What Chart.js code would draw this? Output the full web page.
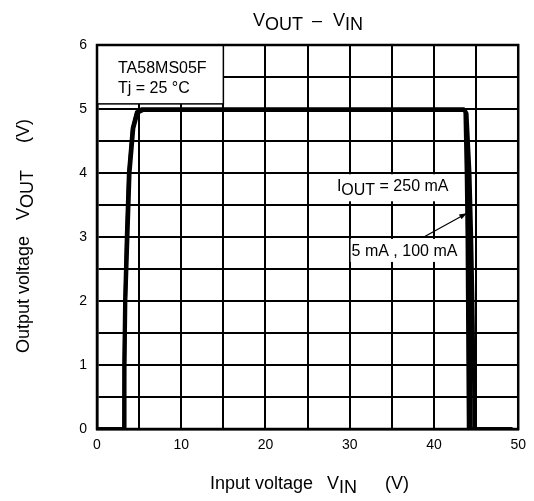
<!DOCTYPE html>
<html>
<head>
<meta charset="utf-8">
<script src="https://cdn.jsdelivr.net/npm/chart.js@4/dist/chart.umd.min.js"></script>
<style>
  body { margin: 0; background: #fff; }
</style>
</head>
<body>
<canvas id="myChart" width="534" height="501"></canvas>
<script>
// Curves: input voltage (V) and output voltage (V)
var vin5 = [0, 3.15, 3.2, 3.3, 3.5, 3.75, 4.2, 4.7, 5.3, 43.5, 43.7, 43.85, 43.95, 44.0, 44.05, 44.1, 49.3];
var vout5 = [0, 0, 1, 2, 3, 4, 4.7, 4.95, 5.0, 5.0, 4.95, 4, 3, 2, 1, 0, 0];

var vin100 = [0, 3.2, 3.25, 3.35, 3.55, 3.8, 4.25, 4.75, 5.4, 43.6, 43.8, 44.05, 44.2, 44.3, 44.35, 44.4, 49.3];
var vout100 = [0, 0, 1, 2, 3, 4, 4.7, 4.95, 4.99, 4.99, 4.94, 4, 3, 2, 1, 0, 0];

var vin250 = [0, 3.25, 3.3, 3.4, 3.65, 3.9, 4.35, 4.85, 5.5, 43.7, 43.9, 44.25, 44.45, 44.6, 44.7, 44.8, 49.3];
var vout250 = [0, 0, 1, 2, 3, 4, 4.7, 4.94, 4.98, 4.98, 4.93, 4, 3, 2, 1, 0, 0];

var xTicks = [0, 10, 20, 30, 40, 50];
var yTicks = [0, 1, 2, 3, 4, 5, 6];

function toPoints(xs, ys) {
  var pts = [];
  for (var i = 0; i < xs.length; i++) {
    pts.push({ x: xs[i], y: ys[i] });
  }
  return pts;
}

function curve(label, xs, ys) {
  return {
    label: label,
    data: toPoints(xs, ys),
    showLine: true,
    borderColor: '#000',
    borderWidth: 3.5,
    pointRadius: 0,
    tension: 0,
    fill: false
  };
}

var FONT = 'Liberation Sans, Arial, sans-serif';

// draw text made of runs, some of them lowered as subscripts
function drawRuns(ctx, runs, x, y) {
  ctx.textAlign = 'left';
  ctx.textBaseline = 'alphabetic';
  for (var i = 0; i < runs.length; i++) {
    var r = runs[i];
    ctx.fillText(r.t, x, y + (r.sub ? 4 : 0));
    x += ctx.measureText(r.t).width + (r.gap || 0);
  }
}

var extras = {
  id: 'extras',
  beforeDatasetsDraw: function (chart) {
    var ctx = chart.ctx;
    var xs = chart.scales.x, ys = chart.scales.y;
    ctx.save();

    // part number box
    var bx0 = xs.getPixelForValue(0), bx1 = xs.getPixelForValue(15);
    var by0 = ys.getPixelForValue(6), by1 = ys.getPixelForValue(5.08);
    ctx.fillStyle = '#fff';
    ctx.fillRect(bx0, by0, bx1 - bx0, by1 - by0);
    ctx.strokeStyle = '#000';
    ctx.lineWidth = 1.5;
    ctx.strokeRect(bx0, by0, bx1 - bx0, by1 - by0);
    ctx.fillStyle = '#000';
    ctx.font = '16px ' + FONT;
    ctx.textAlign = 'left';
    ctx.fillText('TA58MS05F', bx0 + 21, by0 + 28);
    ctx.fillText('Tj = 25 °C', bx0 + 21, by0 + 48);

    // label backgrounds
    ctx.fillStyle = '#fff';
    var l1x = xs.getPixelForValue(28.0), l1y = ys.getPixelForValue(3.98);
    ctx.fillRect(l1x, l1y, 120, 27);
    var l2x = xs.getPixelForValue(30.1), l2y = ys.getPixelForValue(2.97);
    ctx.fillRect(l2x, l2y, 106, 23);

    ctx.fillStyle = '#000';
    ctx.font = '16px ' + FONT;
    drawRuns(ctx, [{ t: 'I' }, { t: 'OUT', sub: true }, { t: ' = 250 mA' }], l1x + 4, l1y + 17);
    drawRuns(ctx, [{ t: '5 mA , 100 mA' }], l2x + 1, l2y + 17);

    // arrow to the curve
    var ax0 = xs.getPixelForValue(38.8), ay0 = ys.getPixelForValue(3.0);
    var ax1 = xs.getPixelForValue(43.9), ay1 = ys.getPixelForValue(3.37);
    ctx.strokeStyle = '#000';
    ctx.lineWidth = 1.2;
    ctx.beginPath();
    ctx.moveTo(ax0, ay0);
    ctx.lineTo(ax1, ay1);
    ctx.stroke();
    var ang = Math.atan2(ay1 - ay0, ax1 - ax0);
    ctx.beginPath();
    ctx.moveTo(ax1, ay1);
    ctx.lineTo(ax1 - 8 * Math.cos(ang - 0.35), ay1 - 8 * Math.sin(ang - 0.35));
    ctx.lineTo(ax1 - 8 * Math.cos(ang + 0.35), ay1 - 8 * Math.sin(ang + 0.35));
    ctx.closePath();
    ctx.fill();
    ctx.restore();
  },
  afterDraw: function (chart) {
    var ctx = chart.ctx;
    var a = chart.chartArea;
    ctx.save();
    ctx.strokeStyle = '#000';
    ctx.lineWidth = 2.5;
    ctx.strokeRect(a.left, a.top, a.right - a.left, a.bottom - a.top);

    ctx.fillStyle = '#000';
    ctx.font = '18px ' + FONT;
    // title
    drawRuns(ctx, [{ t: 'V' }, { t: 'OUT', sub: true, gap: 4 }, { t: ' – ', gap: 6 }, { t: 'V' }, { t: 'IN', sub: true }], 253, 26);
    // x axis title
    drawRuns(ctx, [{ t: 'Input voltage' }], 210, 489);
    drawRuns(ctx, [{ t: 'V' }, { t: 'IN', sub: true }], 327, 489);
    drawRuns(ctx, [{ t: '(V)' }], 385, 489);
    // y axis title
    ctx.translate(29, 353);
    ctx.rotate(-Math.PI / 2);
    drawRuns(ctx, [{ t: 'Output voltage' }], 0, 0);
    drawRuns(ctx, [{ t: 'V' }, { t: 'OUT', sub: true }], 133, 0);
    drawRuns(ctx, [{ t: '(V)' }], 210, 0);
    ctx.restore();
  }
};

var config = {
  type: 'scatter',
  data: {
    datasets: [
      curve('5 mA', vin5, vout5),
      curve('100 mA', vin100, vout100),
      curve('250 mA', vin250, vout250)
    ]
  },
  options: {
    responsive: false,
    animation: false,
    layout: { padding: { left: 0, top: 45, right: 12, bottom: 0 } },
    plugins: {
      legend: { display: false },
      tooltip: { enabled: false }
    },
    scales: {
      x: {
        type: 'linear',
        min: 0,
        max: 50,
        afterFit: function (s) { s.height = 72; },
        grid: { color: '#000', lineWidth: 2, drawTicks: false },
        border: { color: '#000', width: 2.5 },
        ticks: {
          stepSize: 5,
          padding: 8,
          color: '#000',
          font: { family: FONT, size: 14 },
          callback: function (v) { return xTicks.indexOf(v) >= 0 ? String(v) : ''; }
        }
      },
      y: {
        type: 'linear',
        min: 0,
        max: 6,
        afterFit: function (s) { s.width = 97; },
        grid: { color: '#000', lineWidth: 2, drawTicks: false },
        border: { color: '#000', width: 2.5 },
        ticks: {
          stepSize: 0.5,
          padding: 10,
          color: '#000',
          font: { family: FONT, size: 14 },
          callback: function (v) { return yTicks.indexOf(v) >= 0 ? String(v) : ''; }
        }
      }
    }
  },
  plugins: [extras]
};

var canvas = document.getElementById('myChart');
var chart = new Chart(canvas, config);
</script>
</body>
</html>
